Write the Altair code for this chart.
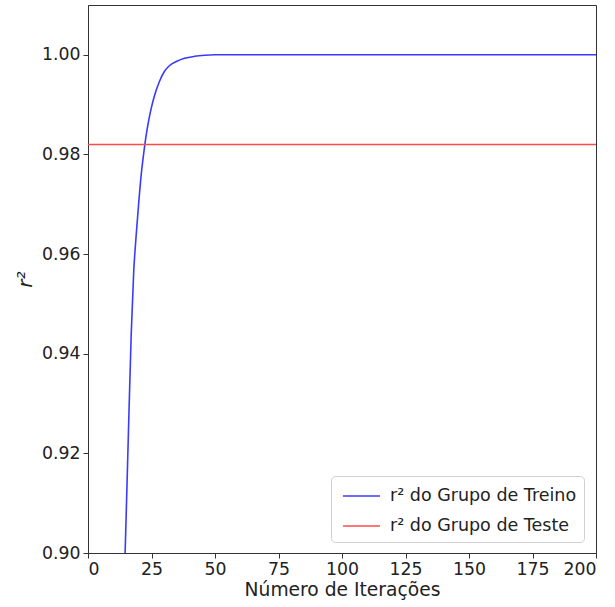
import altair as alt
import pandas as pd

train_iter = [13, 14, 15, 16, 17, 18, 19, 20, 21, 22, 23, 24, 25, 26, 28, 30, 32, 35, 38, 42, 46, 50, 200]
train_r2 = [0.870, 0.889, 0.907, 0.9258, 0.9437, 0.9565, 0.9640, 0.9705, 0.9762, 0.9805, 0.9842,
            0.9871, 0.9895, 0.9915, 0.9945, 0.9966, 0.9978, 0.9987, 0.9993, 0.9997, 0.9999, 1.0, 1.0]
test_iter = [0, 200]
test_r2 = [0.982, 0.982]

series_names = ["r² do Grupo de Treino", "r² do Grupo de Teste"]
series_colors = ["#3a3aff", "#ff4a4a"]
x_ticks = [0, 25, 50, 75, 100, 125, 150, 175, 200]
y_ticks = [0.90, 0.92, 0.94, 0.96, 0.98, 1.00]

df = pd.concat([
    pd.DataFrame({"iter": train_iter, "r2": train_r2, "series": series_names[0]}),
    pd.DataFrame({"iter": test_iter, "r2": test_r2, "series": series_names[1]}),
])

font = "DejaVu Sans"

chart = alt.Chart(df).mark_line(clip=True, strokeWidth=1.6, interpolate="monotone").encode(
    x=alt.X("iter:Q",
            scale=alt.Scale(domain=[0, 200], nice=False),
            axis=alt.Axis(values=x_ticks, title="Número de Iterações", format="d",
                          titlePadding=3, labelPadding=2)),
    y=alt.Y("r2:Q",
            scale=alt.Scale(domain=[0.90, 1.01], nice=False, zero=False),
            axis=alt.Axis(values=y_ticks, format=".2f", title="r²",
                          titleFontStyle="italic", titleFontSize=20,
                          titlePadding=6, labelPadding=3)),
    color=alt.Color("series:N",
                    scale=alt.Scale(domain=series_names, range=series_colors),
                    legend=alt.Legend(title=None, orient="none", legendX=243, legendY=471,
                                      symbolType="M-0.67,0H2.42", symbolSize=576,
                                      symbolStrokeWidth=1.6, labelFontSize=17.5,
                                      labelFont=font, labelColor="#222",
                                      padding=7, rowPadding=8, labelOffset=26,
                                      strokeColor="#d0d0d0", fillColor="white",
                                      cornerRadius=4, labelLimit=400)),
).properties(
    width=508, height=548,
    autosize=alt.AutoSizeParams(type="none"),
    padding={"left": 88, "top": 5, "right": 19, "bottom": 54},
).configure_view(
    stroke="#333", strokeWidth=1
).configure_axis(
    grid=False, domainColor="#333", tickColor="#333", tickSize=5,
    labelFont=font, titleFont=font, labelFontSize=17.3, titleFontSize=18.7,
    labelColor="#222", titleColor="#222", titleFontWeight="normal",
)

chart.save("out.html", embed_options={"renderer": "svg", "actions": False})
